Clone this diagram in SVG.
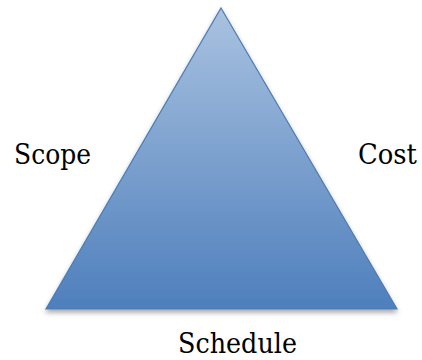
<svg xmlns="http://www.w3.org/2000/svg" width="422" height="360" viewBox="0 0 422 360">
  <defs>
    <linearGradient id="g" x1="0" y1="0" x2="0" y2="1">
      <stop offset="0" stop-color="#a9c2e0"/>
      <stop offset="1" stop-color="#4e7fbc"/>
    </linearGradient>
    <filter id="sh" x="-10%" y="-10%" width="120%" height="130%">
      <feDropShadow dx="0" dy="3" stdDeviation="2.5" flood-color="#000" flood-opacity="0.35"/>
    </filter>
  </defs>
  <style>
    .lbl { font-family: 'DejaVu Serif', 'Liberation Serif', serif; font-size: 27px; fill: #000; }
  </style>
  <rect width="422" height="360" fill="#fff"/>
  <g id="triangle">
    <polygon points="221,8 397,309 46,309" fill="url(#g)" stroke="#4a7bb7" stroke-width="1.2" filter="url(#sh)"/>
  </g>
  <g id="scope"><text class="lbl" x="14" y="164" textLength="77" lengthAdjust="spacingAndGlyphs">Scope</text></g>
  <g id="cost"><text class="lbl" x="358" y="164" textLength="59" lengthAdjust="spacingAndGlyphs">Cost</text></g>
  <g id="schedule"><text class="lbl" x="178" y="353" textLength="119" lengthAdjust="spacingAndGlyphs">Schedule</text></g>
</svg>
